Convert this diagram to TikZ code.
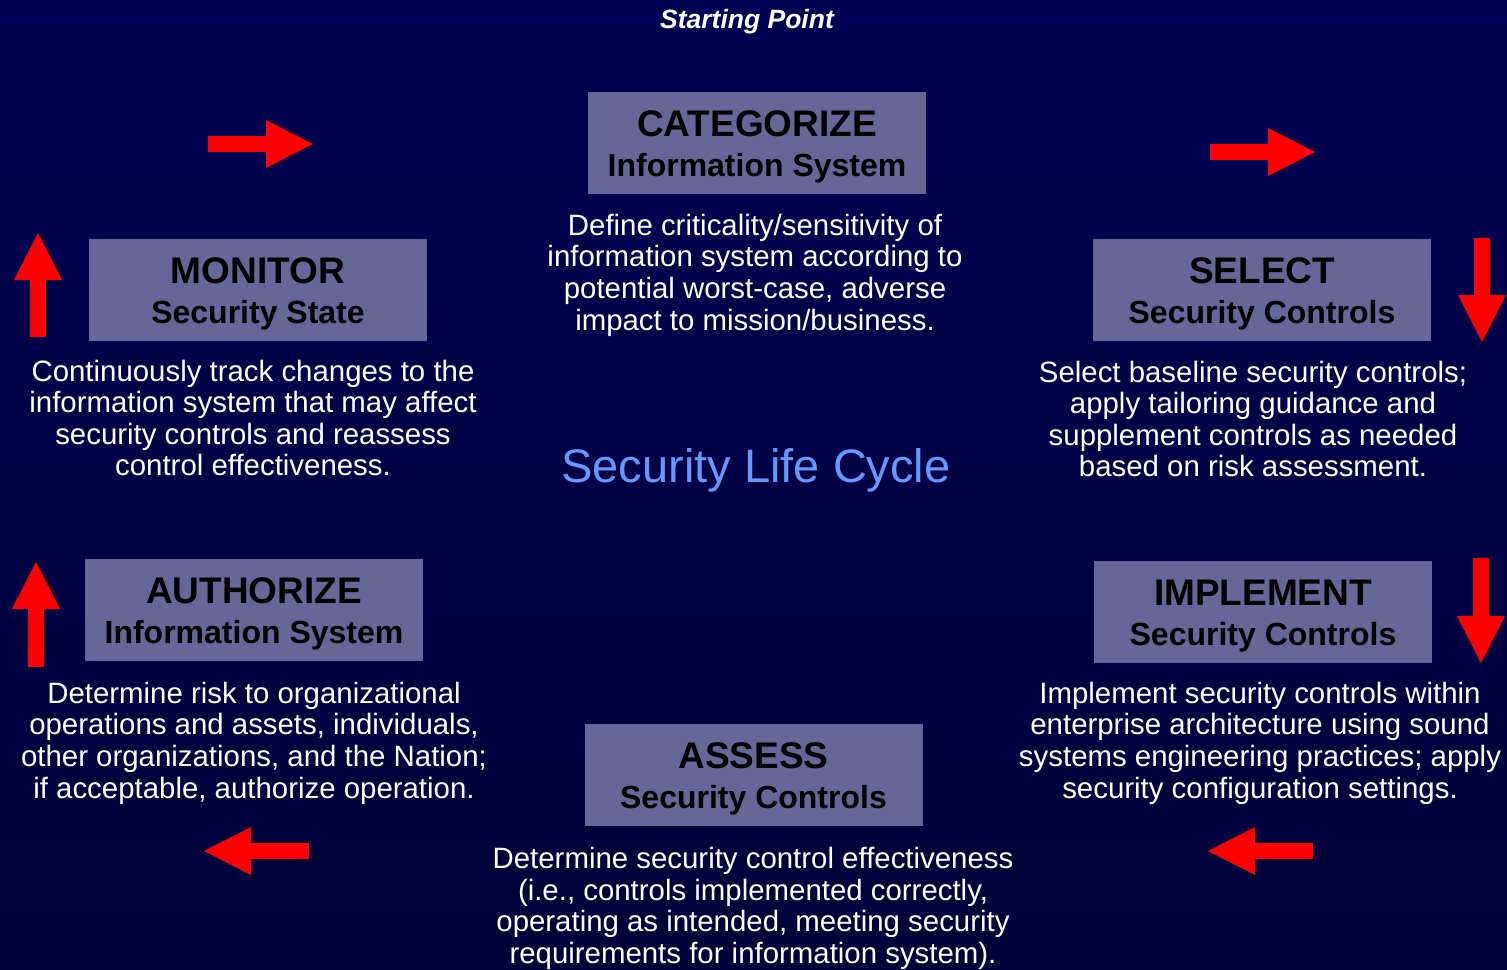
\documentclass[tikz,border=0pt]{standalone}
\usepackage{fontspec}
\setmainfont{Liberation Sans}
\usetikzlibrary{arrows.meta}
\definecolor{bgtop}{RGB}{0,0,82}
\definecolor{bgmid}{RGB}{4,4,108}
\definecolor{bgbot}{RGB}{0,0,56}
\definecolor{boxfill}{RGB}{102,102,153}
\definecolor{lifeblue}{RGB}{102,153,255}
\tikzset{
  stagebox/.style={fill=boxfill, text=black, minimum width=338pt, minimum height=102pt, inner sep=0pt, align=center, font=\bfseries\fontsize{37}{40}\selectfont},
  stagedesc/.style={text=white, align=center, inner sep=0pt, font=\fontsize{29.4}{31.6}\selectfont},
  bigarrow/.style={draw=red, line width=16pt, -{Triangle[length=47pt,width=48pt,line width=0pt]}}
}
\newcommand{\subhead}[1]{{\fontsize{32}{40}\selectfont #1}}
\newcommand{\headstrut}{\rule{0pt}{34pt}}
\begin{document}
\begin{tikzpicture}[x=1pt,y=-1pt]
                \shade[top color=bgtop, middle color=bgmid, bottom color=bgbot] (0pt,0pt) rectangle (1507pt,-969pt);
                \useasboundingbox (0pt,0pt) rectangle (1507pt,-969pt);

                \node[text=white, font=\bfseries\itshape\fontsize{26.5}{30}\selectfont] (start) at (747,21.5) {Starting Point};
                \node[text=lifeblue, font=\fontsize{47}{50}\selectfont] (title) at (756,470) {Security Life Cycle};

                \node[stagebox] (cat) at (757,143) {\headstrut CATEGORIZE\\\subhead{Information System}};
                \node[stagebox] (sel) at (1262,290) {\headstrut SELECT\\\subhead{Security Controls}};
                \node[stagebox] (imp) at (1263,611.5) {\headstrut IMPLEMENT\\\subhead{Security Controls}};
                \node[stagebox] (ass) at (753.5,774.5) {\headstrut ASSESS\\\subhead{Security Controls}};
                \node[stagebox] (aut) at (254,610) {\headstrut AUTHORIZE\\\subhead{Information System}};
                \node[stagebox] (mon) at (258,290) {\headstrut MONITOR\\\subhead{Security State}};

                \node[stagedesc] (catdesc) at (755,275) {Define criticality/sensitivity of\\information system according to\\potential worst-case, adverse\\impact to mission/business.};
                \node[stagedesc] (seldesc) at (1253,419) {Select baseline security controls;\\apply tailoring guidance and\\supplement controls as needed\\based on risk assessment.};
                \node[stagedesc] (impdesc) at (1260,743) {Implement security controls within\\enterprise architecture using sound\\systems engineering practices; apply\\security configuration settings.};
                \node[stagedesc] (assdesc) at (753,908.5) {Determine security control effectiveness\\(i.e., controls implemented correctly,\\operating as intended, meeting security\\requirements for information system).};
                \node[stagedesc] (autdesc) at (254,743) {Determine risk to organizational\\operations and assets, individuals,\\other organizations, and the Nation;\\if acceptable, authorize operation.};
                \node[stagedesc] (mondesc) at (253,418) {Continuously track changes to the\\information system that may affect\\security controls and reassess\\control effectiveness.};

                \coordinate (TLs) at (208,144); \coordinate (TLe) at (313,144);
                \coordinate (TRs) at (1210,152); \coordinate (TRe) at (1315,152);
                \coordinate (R1s) at (1482,238); \coordinate (R1e) at (1482,342);
                \coordinate (R2s) at (1481,558); \coordinate (R2e) at (1481,663);
                \coordinate (BRs) at (1313,851); \coordinate (BRe) at (1208,851);
                \coordinate (BLs) at (309,851); \coordinate (BLe) at (204,851);
                \coordinate (L2s) at (36,667); \coordinate (L2e) at (36,562);
                \coordinate (L1s) at (38,337); \coordinate (L1e) at (38,233);

                \draw[bigarrow] (TLs) to (TLe); \draw[bigarrow] (TRs) to (TRe);
                \draw[bigarrow] (R1s) to (R1e); \draw[bigarrow] (R2s) to (R2e);
                \draw[bigarrow] (BRs) to (BRe); \draw[bigarrow] (BLs) to (BLe);
                \draw[bigarrow] (L2s) to (L2e); \draw[bigarrow] (L1s) to (L1e);
\end{tikzpicture}
\end{document}
